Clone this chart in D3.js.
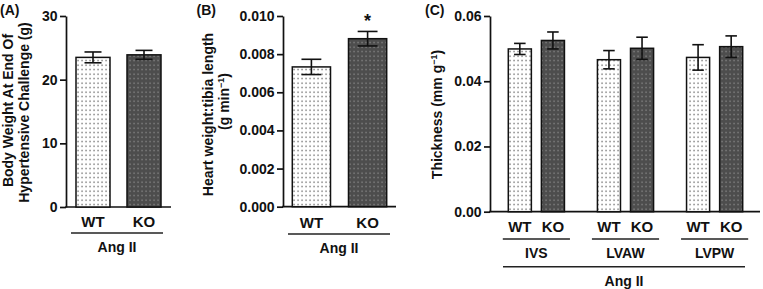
<!DOCTYPE html>
<html>
<head>
<meta charset="utf-8">
<script src="https://cdn.jsdelivr.net/npm/d3@7"></script>
<style>
  html, body { margin: 0; padding: 0; background: #fff; }
  svg { display: block; font-family: "Liberation Sans", Arial, Helvetica, sans-serif; }
</style>
</head>
<body>
<svg id="chart" width="763" height="289"></svg>
<script>
// ---------------- DATA ----------------
const groupsAB = ["WT", "KO"];
const panelA_means = [23.5, 23.9];
const panelA_errors = [0.85, 0.7];
const panelA_ticks = [0, 10, 20, 30];

const panelB_means = [0.00733, 0.00881];
const panelB_errors = [0.0004, 0.00038];
const panelB_ticks = [0, 0.002, 0.004, 0.006, 0.008, 0.010];

const panelC_groups = ["IVS", "LVAW", "LVPW"];
const panelC_WT = [0.0499, 0.0466, 0.0473];
const panelC_WT_err = [0.0017, 0.0028, 0.0039];
const panelC_KO = [0.0525, 0.0501, 0.0506];
const panelC_KO_err = [0.0026, 0.0034, 0.0033];
const panelC_ticks = [0, 0.02, 0.04, 0.06];

const treatmentLabel = "Ang II";

// ---------------- SETUP ----------------
const svg = d3.select("#chart");
const defs = svg.append("defs");

// dotted patterns
const pWT = defs.append("pattern").attr("id", "patWT")
  .attr("patternUnits", "userSpaceOnUse").attr("width", 4).attr("height", 4.5);
pWT.append("rect").attr("width", 4).attr("height", 4.5).attr("fill", "#ffffff");
pWT.append("rect").attr("x", 1.4).attr("y", 1.5).attr("width", 1.3).attr("height", 1.3).attr("fill", "#5a5a5a");

const pKO = defs.append("pattern").attr("id", "patKO")
  .attr("patternUnits", "userSpaceOnUse").attr("width", 4).attr("height", 4.5);
pKO.append("rect").attr("width", 4).attr("height", 4.5).attr("fill", "#4d4d4d");
pKO.append("rect").attr("x", 1.4).attr("y", 1.5).attr("width", 1.3).attr("height", 1.3).attr("fill", "#8e8e8e");

const fillFor = g => g === "WT" ? "url(#patWT)" : "url(#patKO)";

function drawYAxis(y, x0, ticks, fmt) {
  const ax = svg.append("g").attr("transform", `translate(${x0},0)`)
    .call(d3.axisLeft(y).tickValues(ticks).tickFormat(fmt).tickSize(6).tickSizeOuter(0).tickPadding(2.5));
  ax.select(".domain").attr("stroke", "#111").attr("stroke-width", 1.7);
  ax.selectAll(".tick line").attr("stroke", "#111").attr("stroke-width", 1.7);
  ax.selectAll(".tick text").attr("fill", "#111").style("font-size", "14px").style("font-weight", "bold")
    .style("font-family", '"Liberation Sans", Arial, sans-serif');
  return ax;
}

function baseline(y, x0, x1) {
  svg.append("line").attr("x1", x0 - 0.8).attr("x2", x1).attr("y1", y(0)).attr("y2", y(0))
    .attr("stroke", "#111").attr("stroke-width", 1.7);
}

function bar(cx, bw, y, mean, err, grp, capFrac) {
  svg.append("rect")
    .attr("x", cx - bw / 2).attr("width", bw)
    .attr("y", y(mean)).attr("height", y(0) - y(mean))
    .attr("fill", fillFor(grp)).attr("stroke", "#111").attr("stroke-width", 1.5);
  const cw = bw * capFrac / 2;
  const g = svg.append("g").attr("stroke", "#111").attr("stroke-width", 1.6);
  g.append("line").attr("x1", cx).attr("x2", cx).attr("y1", y(mean + err)).attr("y2", y(mean - err));
  g.append("line").attr("x1", cx - cw).attr("x2", cx + cw).attr("y1", y(mean + err)).attr("y2", y(mean + err));
  g.append("line").attr("x1", cx - cw).attr("x2", cx + cw).attr("y1", y(mean - err)).attr("y2", y(mean - err));
}

function label(x, yPos, txt, size) {
  return svg.append("text").attr("x", x).attr("y", yPos).attr("text-anchor", "middle")
    .style("font-size", size + "px").style("font-weight", "bold").attr("fill", "#111").text(txt);
}

function hline(x0, x1, yPos) {
  svg.append("line").attr("x1", x0).attr("x2", x1).attr("y1", yPos).attr("y2", yPos)
    .attr("stroke", "#222").attr("stroke-width", 1.5);
}

function rotTitle(cx, cy, txt) {
  return svg.append("text").attr("transform", `translate(${cx},${cy}) rotate(-90)`)
    .attr("text-anchor", "middle").style("font-size", "14px").style("font-weight", "bold")
    .attr("fill", "#111").text(txt);
}

function panelTag(x, yPos, txt) {
  svg.append("text").attr("x", x).attr("y", yPos).style("font-size", "14px")
    .style("font-weight", "bold").attr("fill", "#111").text(txt);
}

// ---------------- PANEL A ----------------
{
  const axX = 66, axEnd = 171;
  const y = d3.scaleLinear().domain([0, 30]).range([207, 16]);
  const x = d3.scaleBand().domain(groupsAB).range([76, 161]).paddingInner(1 / 3).paddingOuter(0);
  baseline(y, axX, axEnd);
  groupsAB.forEach((g, i) => bar(x(g) + x.bandwidth() / 2, x.bandwidth(), y, panelA_means[i], panelA_errors[i], g, 0.5));
  drawYAxis(y, axX, panelA_ticks, d3.format("d"));
  groupsAB.forEach(g => label(x(g) + x.bandwidth() / 2, 227, g, 15));
  hline(71, 163, 233);
  label(117, 251.5, treatmentLabel, 14);
  rotTitle(12.7, 110.5, "Body Weight At End Of");
  rotTitle(28.5, 112.5, "Hypertensive Challenge (g)");
  panelTag(0, 15, "(A)");
}

// ---------------- PANEL B ----------------
{
  const axX = 283, axEnd = 396;
  const y = d3.scaleLinear().domain([0, 0.010]).range([206.7, 16]);
  const x = d3.scaleBand().domain(groupsAB).range([292.3, 386.7]).paddingInner(0.32).paddingOuter(0);
  baseline(y, axX, axEnd);
  groupsAB.forEach((g, i) => bar(x(g) + x.bandwidth() / 2, x.bandwidth(), y, panelB_means[i], panelB_errors[i], g, 0.52));
  drawYAxis(y, axX, panelB_ticks, d3.format(".3f"));
  groupsAB.forEach(g => label(x(g) + x.bandwidth() / 2, 227.5, g, 15));
  // significance star over KO
  label(x("KO") + x.bandwidth() / 2, 27, "*", 18);
  hline(288, 390, 234);
  label(339, 252.5, treatmentLabel, 14);
  rotTitle(213, 114.5, "Heart weight:tibia length");
  const t2 = svg.append("text").attr("transform", `translate(229,101.5) rotate(-90)`)
    .attr("text-anchor", "middle").style("font-size", "14px").style("font-weight", "bold").attr("fill", "#111");
  t2.append("tspan").text("(g min");
  t2.append("tspan").attr("dy", -5).style("font-size", "9px").text("\u22121");
  t2.append("tspan").attr("dy", 5).text(")");
  panelTag(196.5, 15, "(B)");
}

// ---------------- PANEL C ----------------
{
  const axX = 490, axEnd = 760;
  const y = d3.scaleLinear().domain([0, 0.06]).range([211.7, 16]);
  const x0 = d3.scaleBand().domain(panelC_groups).range([508.3, 742.7]).paddingInner(0.37).paddingOuter(0);
  const x1 = d3.scaleBand().domain(groupsAB).range([0, x0.bandwidth()]).paddingInner(0.303).paddingOuter(0);
  baseline(y, axX, axEnd);
  panelC_groups.forEach((grp, i) => {
    const vals = { WT: [panelC_WT[i], panelC_WT_err[i]], KO: [panelC_KO[i], panelC_KO_err[i]] };
    groupsAB.forEach(g => {
      const cx = x0(grp) + x1(g) + x1.bandwidth() / 2;
      bar(cx, x1.bandwidth(), y, vals[g][0], vals[g][1], g, 0.5);
      label(cx, 231.5, g, 15);
    });
    const gc = x0(grp) + x0.bandwidth() / 2;
    hline(x0(grp) - 5.5, x0(grp) + x0.bandwidth() + 5.5, 239);
    label(gc, 258, grp, 14);
  });
  drawYAxis(y, axX, panelC_ticks, d3.format(".2f"));
  hline(503, 745, 266.7);
  label(624, 286, treatmentLabel, 14);
  const t = svg.append("text").attr("transform", `translate(442,114.5) rotate(-90)`)
    .attr("text-anchor", "middle").style("font-size", "14px").style("font-weight", "bold").attr("fill", "#111");
  t.append("tspan").text("Thickness (mm g");
  t.append("tspan").attr("dy", -5).style("font-size", "9px").text("\u22121");
  t.append("tspan").attr("dy", 5).text(")");
  panelTag(425, 15, "(C)");
}
</script>
</body>
</html>
